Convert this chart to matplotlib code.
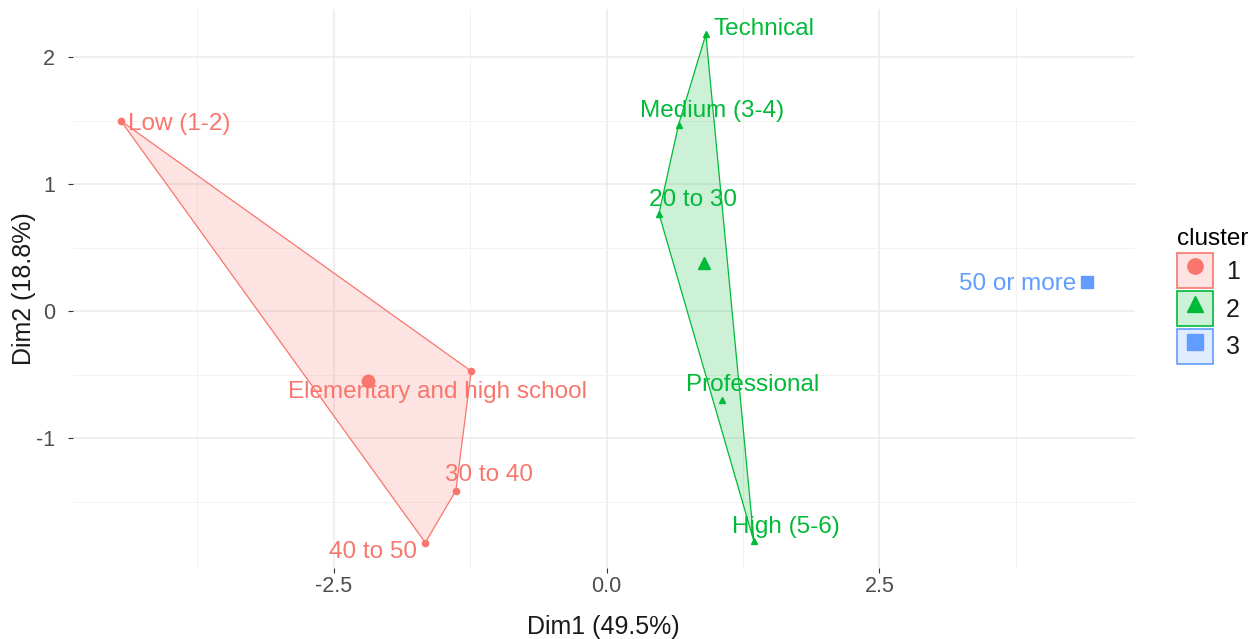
import numpy as np
import matplotlib
matplotlib.use("Agg")
import matplotlib.pyplot as plt
from matplotlib.patches import Polygon, Patch
from matplotlib.lines import Line2D

plt.rcParams["font.family"] = ["Liberation Sans", "DejaVu Sans"]
plt.rcParams["axes.unicode_minus"] = False

# ---- data ----
labels = ["Low (1-2)", "Elementary and high school", "30 to 40", "40 to 50",
          "Technical", "Medium (3-4)", "20 to 30", "Professional", "High (5-6)",
          "50 or more"]
dim1 = [-4.45, -1.24, -1.38, -1.66, 0.91, 0.66, 0.48, 1.06, 1.35, 4.40]
dim2 = [1.50, -0.47, -1.41, -1.82, 2.18, 1.47, 0.77, -0.70, -1.81, 0.23]
cluster = [1, 1, 1, 1, 2, 2, 2, 2, 2, 3]

cluster_ids = [1, 2, 3]
cluster_colors = ["#F8766D", "#00BA38", "#619CFF"]
cluster_markers = ["o", "^", "s"]

# label offsets in points (label placement, like ggrepel)
label_offsets = [(42, -2), (-24, -15), (24, 11), (-38, -7),
                 (42, 3.5), (24, 10), (24.5, 10), (22, 11), (23, 10),
                 (-50, -1.5)]

dim1 = np.array(dim1)
dim2 = np.array(dim2)
cluster = np.array(cluster)


def convex_hull(pts):
    pts = sorted(map(tuple, pts))
    if len(pts) < 3:
        return pts

    def cross(o, a, b):
        return (a[0] - o[0]) * (b[1] - o[1]) - (a[1] - o[1]) * (b[0] - o[0])
    lower, upper = [], []
    for p in pts:
        while len(lower) >= 2 and cross(lower[-2], lower[-1], p) <= 0:
            lower.pop()
        lower.append(p)
    for p in reversed(pts):
        while len(upper) >= 2 and cross(upper[-2], upper[-1], p) <= 0:
            upper.pop()
        upper.append(p)
    return lower[:-1] + upper[:-1]


fig = plt.figure(figsize=(12.54, 6.39), dpi=100)
ax = fig.add_axes([0.058, 0.111, 0.847, 0.875])

# panel / grid like theme_minimal
for s in ax.spines.values():
    s.set_visible(False)
ax.set_xlim(-4.89, 4.84)
ax.set_ylim(-2.02, 2.38)
ax.set_xticks([-2.5, 0.0, 2.5])
ax.set_xticklabels(["-2.5", "0.0", "2.5"])
ax.set_yticks([-1, 0, 1, 2])
ax.set_xticks([-3.75, -1.25, 1.25, 3.75], minor=True)
ax.set_yticks([-1.5, -0.5, 0.5, 1.5], minor=True)
ax.grid(True, which="major", color="#EBEBEB", linewidth=1.1, zorder=0)
ax.grid(True, which="minor", color="#F2F2F2", linewidth=0.7, zorder=0)
ax.tick_params(which="major", length=3.5, width=0.8, color="#333333",
               labelcolor="#4D4D4D", labelsize=15.5)
ax.tick_params(axis="x", pad=2)
ax.tick_params(axis="y", pad=9)
ax.tick_params(which="minor", length=0)
ax.set_axisbelow(True)

for cid, col, mk in zip(cluster_ids, cluster_colors, cluster_markers):
    m = cluster == cid
    xs, ys = dim1[m], dim2[m]
    if m.sum() >= 3:
        hull = convex_hull(np.column_stack([xs, ys]))
        ax.add_patch(Polygon(hull, closed=True, facecolor=col, alpha=0.2,
                             edgecolor="none", zorder=2))
        ax.add_patch(Polygon(hull, closed=True, facecolor="none",
                             edgecolor=col, linewidth=0.9, zorder=3))
    ax.plot(xs, ys, linestyle="none", marker=mk, color=col, markersize=4.5,
            zorder=4)
    ax.plot([xs.mean()], [ys.mean()], linestyle="none", marker=mk, color=col,
            markersize=9, zorder=4)

for i, lab in enumerate(labels):
    col = cluster_colors[cluster_ids.index(cluster[i])]
    ax.annotate(lab, (dim1[i], dim2[i]), xytext=label_offsets[i],
                textcoords="offset points", ha="center", va="center",
                color=col, fontsize=17.5, zorder=5)

ax.set_xlabel("Dim1 (49.5%)", fontsize=18, color="#1A1A1A", labelpad=13)
ax.set_ylabel("Dim2 (18.8%)", fontsize=18, color="#1A1A1A", labelpad=0)

# legend: filled box + marker per cluster
handles = []
for col, mk in zip(cluster_colors, cluster_markers):
    box = Patch(facecolor=matplotlib.colors.to_rgba(col, 0.2), edgecolor=col,
                linewidth=1.2)
    pt = Line2D([], [], linestyle="none", marker=mk, color=col, markersize=11)
    handles.append((box, pt))
leg = fig.legend(handles, [str(c) for c in cluster_ids], title="cluster",
                 loc="center left", bbox_to_anchor=(0.9385, 0.537),
                 frameon=False, fontsize=18, title_fontsize=17.5,
                 handlelength=1.45, handleheight=1.75, handletextpad=0.5,
                 labelspacing=0.13, borderpad=0, borderaxespad=0)
leg._legend_box.align = "left"
for t in leg.get_texts():
    t.set_color("#1A1A1A")

fig.savefig("out.png", dpi=100)
